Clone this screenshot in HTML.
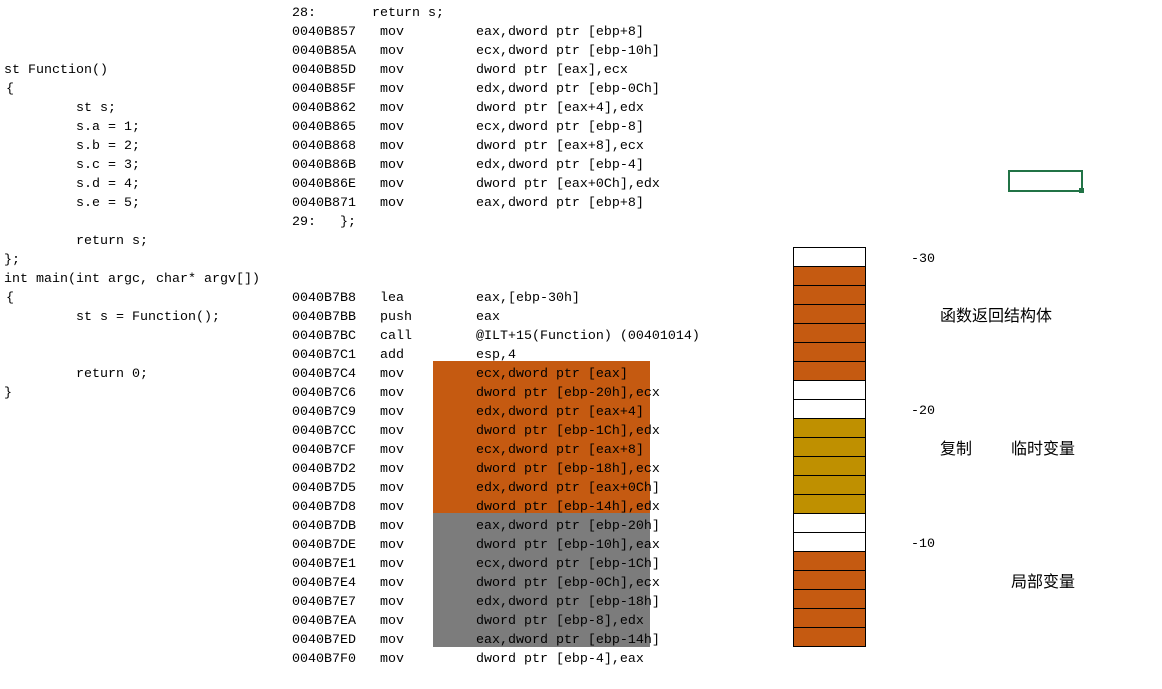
<!DOCTYPE html>
<html lang="zh">
<head>
<meta charset="utf-8">
<title>Diagram</title>
<style>
html,body{margin:0;padding:0;background:#fff}
#page{position:relative;width:1162px;height:689px;overflow:hidden;background:#fff}
pre{position:absolute;margin:0;font-family:"Liberation Mono",monospace;font-size:13.33px;line-height:19px;color:#000;z-index:3}
.ov{position:absolute;z-index:1}
.cell{position:absolute;left:793px;width:71px;height:18px;border:1px solid #000;z-index:2}
.w{background:#fff}.o{background:#C55A11}.g{background:#BF9000}
.t{position:absolute;font-family:"Liberation Sans","Noto Sans CJK SC",sans-serif;font-size:16px;line-height:20px;color:#000;white-space:nowrap;z-index:3}
.n{position:absolute;font-family:"Liberation Mono",monospace;font-size:13.33px;line-height:19px;color:#000;z-index:3}
</style>
</head>
<body>
<div id="page">
<div class="ov" style="left:433px;top:361px;width:217px;height:152px;background:#C55A11"></div>
<div class="ov" style="left:433px;top:513px;width:217px;height:134px;background:#7C7C7C"></div>

<pre style="left:4px;top:61px">st Function()
<span style="margin-left:2px">{</span>
         st s;
         s.a = 1;
         s.b = 2;
         s.c = 3;
         s.d = 4;
         s.e = 5;

         return s;
};
int main(int argc, char* argv[])
<span style="margin-left:2px">{</span>
         st s = Function();


         return 0;
}</pre>

<pre style="left:292px;top:4px">28:       return s;
0040B857   mov         eax,dword ptr [ebp+8]
0040B85A   mov         ecx,dword ptr [ebp-10h]
0040B85D   mov         dword ptr [eax],ecx
0040B85F   mov         edx,dword ptr [ebp-0Ch]
0040B862   mov         dword ptr [eax+4],edx
0040B865   mov         ecx,dword ptr [ebp-8]
0040B868   mov         dword ptr [eax+8],ecx
0040B86B   mov         edx,dword ptr [ebp-4]
0040B86E   mov         dword ptr [eax+0Ch],edx
0040B871   mov         eax,dword ptr [ebp+8]
29:   };



0040B7B8   lea         eax,[ebp-30h]
0040B7BB   push        eax
0040B7BC   call        @ILT+15(Function) (00401014)
0040B7C1   add         esp,4
0040B7C4   mov         ecx,dword ptr [eax]
0040B7C6   mov         dword ptr [ebp-20h],ecx
0040B7C9   mov         edx,dword ptr [eax+4]
0040B7CC   mov         dword ptr [ebp-1Ch],edx
0040B7CF   mov         ecx,dword ptr [eax+8]
0040B7D2   mov         dword ptr [ebp-18h],ecx
0040B7D5   mov         edx,dword ptr [eax+0Ch]
0040B7D8   mov         dword ptr [ebp-14h],edx
0040B7DB   mov         eax,dword ptr [ebp-20h]
0040B7DE   mov         dword ptr [ebp-10h],eax
0040B7E1   mov         ecx,dword ptr [ebp-1Ch]
0040B7E4   mov         dword ptr [ebp-0Ch],ecx
0040B7E7   mov         edx,dword ptr [ebp-18h]
0040B7EA   mov         dword ptr [ebp-8],edx
0040B7ED   mov         eax,dword ptr [ebp-14h]
0040B7F0   mov         dword ptr [ebp-4],eax</pre>

<div class="cell w" style="top:247px"></div>
<div class="cell o" style="top:266px"></div>
<div class="cell o" style="top:285px"></div>
<div class="cell o" style="top:304px"></div>
<div class="cell o" style="top:323px"></div>
<div class="cell o" style="top:342px"></div>
<div class="cell o" style="top:361px"></div>
<div class="cell w" style="top:380px"></div>
<div class="cell w" style="top:399px"></div>
<div class="cell g" style="top:418px"></div>
<div class="cell g" style="top:437px"></div>
<div class="cell g" style="top:456px"></div>
<div class="cell g" style="top:475px"></div>
<div class="cell g" style="top:494px"></div>
<div class="cell w" style="top:513px"></div>
<div class="cell w" style="top:532px"></div>
<div class="cell o" style="top:551px"></div>
<div class="cell o" style="top:570px"></div>
<div class="cell o" style="top:589px"></div>
<div class="cell o" style="top:608px"></div>
<div class="cell o" style="top:627px"></div>

<div class="n" style="left:911px;top:250px">-30</div>
<div class="n" style="left:911px;top:402px">-20</div>
<div class="n" style="left:911px;top:535px">-10</div>

<div class="t" style="left:940px;top:307px">函数返回结构体</div>
<div class="t" style="left:940px;top:440px">复制</div>
<div class="t" style="left:1011px;top:440px">临时变量</div>
<div class="t" style="left:1011px;top:573px">局部变量</div>

<div style="position:absolute;left:1008px;top:170px;width:71px;height:18px;border:2px solid #217346;z-index:3"></div>
<div style="position:absolute;left:1079px;top:188px;width:5px;height:5px;background:#217346;z-index:4"></div>
</div>
</body>
</html>
